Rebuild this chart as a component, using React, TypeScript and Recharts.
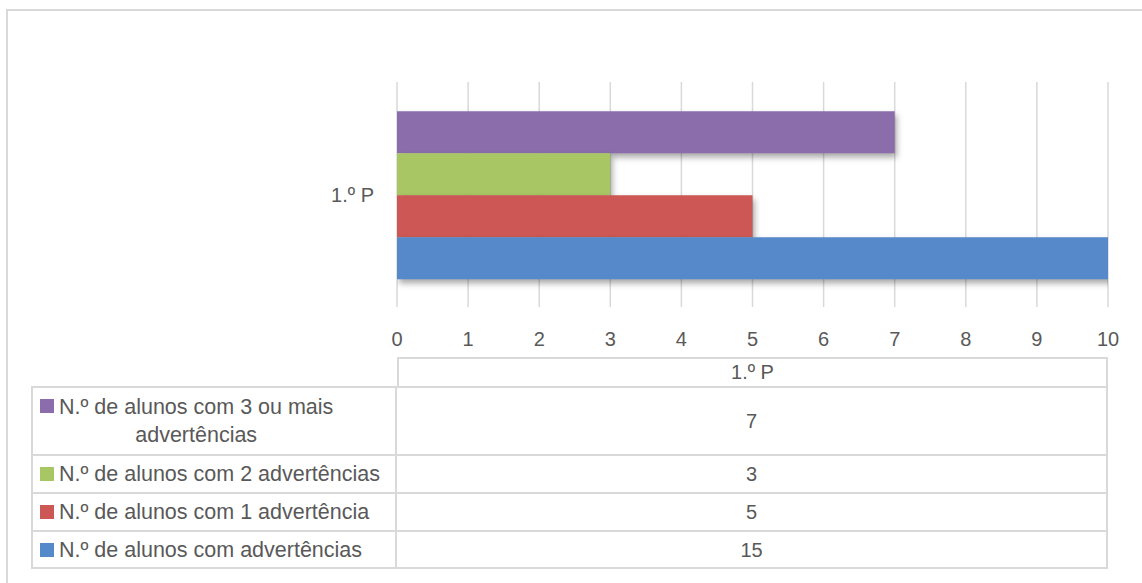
import React from 'react';
import { BarChart, Bar, XAxis, YAxis, CartesianGrid } from 'recharts';

const categories = ['1.º P'];
const seriesNames = [
  'N.º de alunos com 3 ou mais\nadvertências',
  'N.º de alunos com 2 advertências',
  'N.º de alunos com 1 advertência',
  'N.º de alunos com advertências',
];
const seriesValues = [7, 3, 5, 15];
const seriesColors = ['#8B6DAC', '#A8C664', '#CD5754', '#5689CA'];
const xTicks = [0, 1, 2, 3, 4, 5, 6, 7, 8, 9, 10];

const data = categories.map((c) => {
  const row: Record<string, string | number> = { name: c };
  seriesValues.forEach((v, i) => {
    row['s' + i] = v;
  });
  return row;
});

const FONT = '"Liberation Sans", Arial, sans-serif';
const TEXT = '#595959';
const LINE = '#d9d9d9';

const ShadowRect = (props: any) => {
  const { x, y, width, height, fill } = props;
  if (width == null || height == null) return null;
  return (
    <rect
      x={x}
      y={y}
      width={Math.max(0, width)}
      height={Math.max(0, height)}
      fill={fill}
      style={{ filter: 'drop-shadow(2px 4px 3px rgba(0,0,0,0.35))' }}
    />
  );
};

const rowHeights = [68, 38, 38, 38];

export default function App() {
  const tableTop = 357;
  const headerH = 29;
  const leftX = 31;
  const splitX = 397;
  const rightX = 1108;
  let y = tableTop + headerH;
  const rows = seriesNames.map((name, i) => {
    const top = y;
    const h = rowHeights[i];
    y += h;
    return { name, top, h, i };
  });
  const tableBottom = y;

  return (
    <div
      style={{
        position: 'fixed',
        left: 0,
        top: 0,
        width: 1142,
        height: 583,
        background: '#fff',
        overflow: 'hidden',
        fontFamily: FONT,
      }}
    >
      <div
        style={{
          position: 'absolute',
          left: 6,
          top: 9,
          width: 1160,
          height: 600,
          border: `2px solid ${LINE}`,
          boxSizing: 'border-box',
        }}
      />
      <div style={{ position: 'absolute', left: 0, top: 0 }}>
        <BarChart
          width={1142}
          height={357}
          data={data}
          layout="vertical"
          margin={{ top: 82, right: 34, bottom: 10, left: 297 }}
          barCategoryGap="13%"
          barGap={0}
        >
          <CartesianGrid horizontal={false} vertical stroke={LINE} strokeWidth={1.5} />
          <XAxis
            type="number"
            domain={[0, 10]}
            ticks={xTicks}
            allowDataOverflow
            axisLine={false}
            tickLine={false}
            tickSize={0}
            tickMargin={25}
            height={40}
            interval={0}
            tick={{ fill: TEXT, fontSize: 20, fontFamily: FONT }}
          />
          <YAxis
            type="category"
            dataKey="name"
            width={100}
            axisLine={false}
            tickLine={false}
            tickSize={0}
            tickMargin={23}
            tick={{ fill: TEXT, fontSize: 20, fontFamily: FONT }}
          />
          {seriesNames.map((n, i) => (
            <Bar
              key={i}
              dataKey={'s' + i}
              name={n}
              fill={seriesColors[i]}
              isAnimationActive={false}
              shape={ShadowRect}
            />
          ))}
        </BarChart>
      </div>

      <div
        style={{
          position: 'absolute',
          left: splitX,
          top: tableTop,
          width: rightX - splitX,
          height: headerH,
          borderTop: `2px solid ${LINE}`,
          borderLeft: `2px solid ${LINE}`,
          borderRight: `2px solid ${LINE}`,
          boxSizing: 'border-box',
          display: 'flex',
          alignItems: 'center',
          justifyContent: 'center',
          color: TEXT,
          fontSize: 20,
        }}
      >
        {categories[0]}
      </div>
      {rows.map((r) => (
        <React.Fragment key={r.i}>
          <div
            style={{
              position: 'absolute',
              left: leftX,
              top: r.top,
              width: splitX - leftX,
              height: r.h,
              borderTop: `2px solid ${LINE}`,
              borderLeft: `2px solid ${LINE}`,
              borderRight: `2px solid ${LINE}`,
              boxSizing: 'border-box',
              color: TEXT,
              fontSize: 21.5,
            }}
          >
            <div
              style={{
                position: 'absolute',
                left: 7,
                top: r.name.includes('\n') ? 11 : (r.h - 14) / 2 - 1,
                width: 14,
                height: 14,
                background: seriesColors[r.i],
              }}
            />
            <div
              style={{
                position: 'absolute',
                left: 26,
                top: 0,
                height: r.h - 2,
                display: 'flex',
                alignItems: 'center',
              }}
            >
              <div style={{ whiteSpace: 'pre-line', textAlign: 'center', lineHeight: '28px' }}>
                {r.name}
              </div>
            </div>
          </div>
          <div
            style={{
              position: 'absolute',
              left: splitX,
              top: r.top,
              width: rightX - splitX,
              height: r.h,
              borderTop: `2px solid ${LINE}`,
              borderRight: `2px solid ${LINE}`,
              boxSizing: 'border-box',
              display: 'flex',
              alignItems: 'center',
              justifyContent: 'center',
              color: TEXT,
              fontSize: 20,
            }}
          >
            {seriesValues[r.i]}
          </div>
        </React.Fragment>
      ))}
      <div
        style={{
          position: 'absolute',
          left: leftX,
          top: tableBottom - 1,
          width: rightX - leftX,
          height: 2,
          background: LINE,
        }}
      />
    </div>
  );
}
